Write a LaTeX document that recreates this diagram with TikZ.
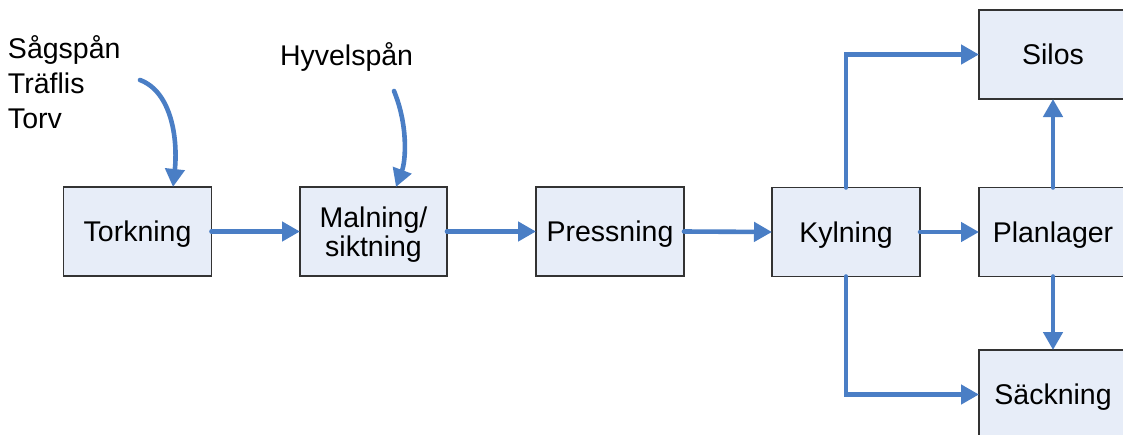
\documentclass[tikz,border=0pt]{standalone}
\usepackage{fontspec}
\setmainfont{Liberation Sans}
\usetikzlibrary{arrows.meta}
\definecolor{arrowblue}{HTML}{4A7EC5}
\definecolor{boxfill}{HTML}{E7EDF8}
\definecolor{boxline}{HTML}{333333}
\begin{document}
\begin{tikzpicture}[x=1pt,y=-1pt,
  stepbox/.style={draw=boxline,line width=1.5pt,fill=boxfill,minimum width=148pt,minimum height=89pt,inner sep=0pt,outer sep=0pt,align=center,text depth=0pt,font=\fontsize{28.5}{29}\selectfont},
  flow/.style={draw=arrowblue,line width=4.6pt,line cap=round,-{Triangle[length=18pt,width=19pt]}},
  lbl/.style={inner sep=0pt,outer sep=0pt,align=left,font=\fontsize{28.5}{35}\selectfont}]
\useasboundingbox (0,0) rectangle (1123,434);
\begin{scope}
\clip (0,0) rectangle (1123,434);
\node[stepbox] (tork) at (137.5,231.5) {Torkning};
\node[stepbox,minimum width=147pt] (maln) at (373.5,231.5) {Malning/\\siktning};
\node[stepbox] (press) at (610,231.5) {Pressning};
\node[stepbox] (kyl) at (846,232) {Kylning};
\node[stepbox] (plan) at (1053,232) {Planlager};
\node[stepbox] (silos) at (1053,54.5) {Silos};
\node[stepbox] (sack) at (1053,394.5) {Säckning};
\end{scope}
\node[lbl,anchor=north west] (raw) at (8,36) {Sågspån\\Träflis\\Torv};
\node[lbl,anchor=west] (hyv) at (280,57) {Hyvelspån};
\coordinate (rawstart) at (140,80);
\coordinate (rawend) at (173,187);
\coordinate (hyvstart) at (394,91);
\coordinate (hyvend) at (396,187);
\draw[flow] (rawstart) .. controls (172,92) and (178,140) .. (rawend);
\draw[flow] (hyvstart) .. controls (408,125) and (406,160) .. (hyvend);
\draw[flow] (tork.east) -- (maln.west);
\draw[flow] (maln.east) -- (press.west);
\draw[flow] (press.east) -- (kyl.west);
\draw[flow] (kyl.east) -- (plan.west);
\draw[flow] (kyl.north) |- (silos.west);
\draw[flow] (kyl.south) |- (sack.west);
\draw[flow] (plan.north) -- (silos.south);
\draw[flow] (plan.south) -- (sack.north);
\end{tikzpicture}
\end{document}
